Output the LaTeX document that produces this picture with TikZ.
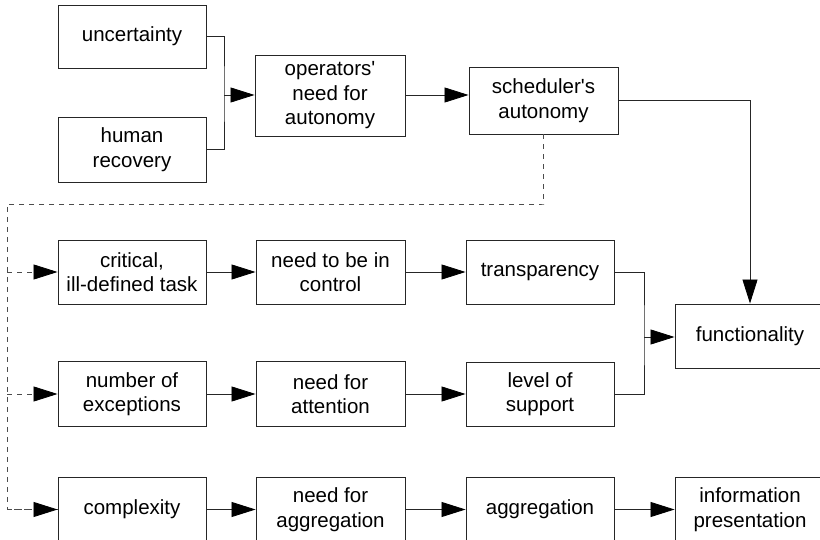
\documentclass[tikz,border=0pt]{standalone}
\usepackage{fontspec}
\setmainfont{Liberation Sans}
\usetikzlibrary{arrows.meta}
\begin{document}
\begin{tikzpicture}[x=1pt,y=-1pt,
  box/.style={draw=black!85, line width=0.9pt, minimum width=148pt,
    minimum height=64pt, align=center, inner sep=2pt,
    font=\fontsize{20.5}{24.5}\selectfont},
  plain/.style={draw=black!85, line width=0.8pt},
  link/.style={plain, -{Triangle[length=24pt,width=15pt,color=black]}},
  dashlink/.style={draw=black!70, line width=0.8pt,
    dash pattern=on 5pt off 5pt, -{Triangle[length=24pt,width=15pt,color=black]}},
  dashline/.style={draw=black!70, line width=0.8pt, dash pattern=on 5pt off 5pt}
]
\useasboundingbox (0,0) rectangle (820,540);

% top block
\node[box, minimum height=63pt] (unc) at (132,36.5) {uncertainty};
\node[box, minimum height=65pt] (hum) at (132,149.5) {human\\recovery};
\node[box, minimum width=150pt, minimum height=81pt] (ops) at (330,95.5)
  {operators\textquotesingle\\need for\\autonomy};
\node[box, minimum width=149pt, minimum height=67pt] (sch) at (543.5,100.5)
  {scheduler\textquotesingle s\\autonomy};

% middle rows
\node[box] (crit) at (132,272) {critical,\\ill-defined task};
\node[box, minimum width=149pt] (ctrl) at (330.5,272) {need to be in\\control};
\node[box] (trans) at (540,272.5) {transparency};
\node[box, minimum width=150pt] (func) at (750,336) {functionality};

\node[box, minimum height=65pt] (exc) at (132,394) {number of\\exceptions};
\node[box, minimum width=149pt, minimum height=65pt] (att) at (330.5,394) {need for\\attention};
\node[box] (sup) at (540,394) {level of\\support};

% bottom row
\node[box] (cplx) at (132,509.5) {complexity};
\node[box, minimum width=149pt] (nagg) at (330.5,509.5) {need for\\aggregation};
\node[box] (agg) at (540,509.5) {aggregation};
\node[box, minimum width=150pt] (info) at (750,509.5) {information\\presentation};

% junction points
\coordinate (j1) at (224,95);
\coordinate (j2) at (644,337);
\coordinate (d0) at (544,204);
\coordinate (dl) at (7,204);

% top merge
\draw[plain] (unc.east) -| (j1) |- (hum.east);
\draw[link] (j1) -- (ops.west |- j1);
\draw[link] (ops.east |- j1) -- (sch.west |- j1);
\draw[link] (sch.east) -| (func.north);

% dashed branch from scheduler's autonomy
\draw[dashline] (sch.south) |- (d0) -- (dl) |- (cplx.west);
\draw[dashlink] (dl |- crit.west) -- (crit.west);
\draw[dashlink] (dl |- exc.west) -- (exc.west);
\draw[dashlink] (dl |- cplx.west) -- (cplx.west);

% row chains
\draw[link] (crit) -- (ctrl);
\draw[link] (ctrl) -- (trans.west |- ctrl.east);
\draw[link] (exc) -- (att);
\draw[link] (att) -- (sup.west |- att.east);
\draw[link] (cplx) -- (nagg);
\draw[link] (nagg) -- (agg);
\draw[link] (agg) -- (info);

% merge into functionality
\draw[plain] (trans.east) -| (j2) |- (sup.east);
\draw[link] (j2) -- (func.west |- j2);
\end{tikzpicture}
\end{document}
